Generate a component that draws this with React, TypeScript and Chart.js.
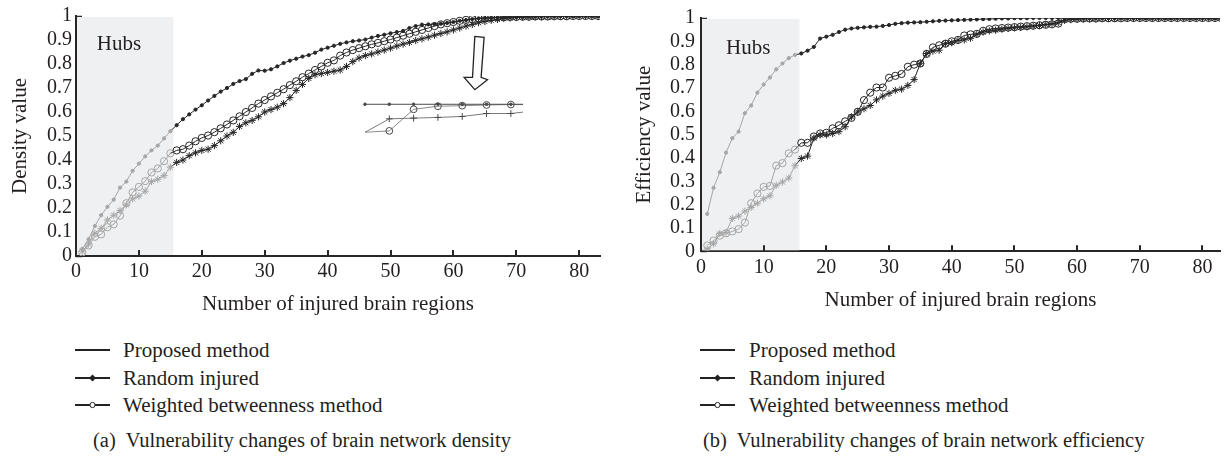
import React, { useEffect, useRef } from 'react';
import { Chart, registerables } from 'chart.js';

Chart.register(...registerables);

// ---------------- data ----------------
const injuredRegions = [
  1, 2, 3, 4, 5, 6, 7, 8, 9, 10, 11, 12, 13, 14, 15, 16, 17, 18, 19, 20,
  21, 22, 23, 24, 25, 26, 27, 28, 29, 30, 31, 32, 33, 34, 35, 36, 37, 38, 39, 40,
  41, 42, 43, 44, 45, 46, 47, 48, 49, 50, 51, 52, 53, 54, 55, 56, 57, 58, 59, 60,
  61, 62, 63, 64, 65, 66, 67, 68, 69, 70, 71, 72, 73, 74, 75, 76, 77, 78, 79, 80,
  81, 82, 83,
];
const xTickValues = [0, 10, 20, 30, 40, 50, 60, 70, 80];
const yTickValues = [0, 0.1, 0.2, 0.3, 0.4, 0.5, 0.6, 0.7, 0.8, 0.9, 1];

const densityProposed = [
  0.03, 0.07, 0.125, 0.17, 0.205, 0.235, 0.285, 0.31, 0.355, 0.385,
  0.415, 0.44, 0.46, 0.49, 0.52, 0.545, 0.57, 0.59, 0.61, 0.628,
  0.648, 0.667, 0.685, 0.7, 0.717, 0.729, 0.737, 0.759, 0.773, 0.772,
  0.778, 0.79, 0.804, 0.814, 0.822, 0.831, 0.837, 0.847, 0.86, 0.868,
  0.876, 0.884, 0.89, 0.895, 0.898, 0.902, 0.91, 0.917, 0.922, 0.928,
  0.933, 0.938, 0.95, 0.958, 0.964, 0.965, 0.966, 0.968, 0.971, 0.975,
  0.98, 0.983, 0.987, 0.99, 0.992, 0.993, 0.994, 0.995, 0.996, 0.997,
  0.997, 0.998, 0.998, 0.998, 0.999, 0.999, 0.999, 1, 1, 1,
  1, 1, 1,
];
const densityRandom = [
  0.02, 0.05, 0.095, 0.115, 0.15, 0.17, 0.19, 0.213, 0.238, 0.25,
  0.27, 0.31, 0.32, 0.335, 0.37, 0.39, 0.4, 0.418, 0.43, 0.44,
  0.445, 0.46, 0.48, 0.5, 0.515, 0.54, 0.555, 0.565, 0.58, 0.6,
  0.61, 0.62, 0.635, 0.66, 0.69, 0.715, 0.74, 0.755, 0.76, 0.765,
  0.77, 0.775, 0.79, 0.81, 0.825, 0.835, 0.842, 0.85, 0.858, 0.866,
  0.875, 0.883, 0.89, 0.898, 0.905, 0.912, 0.92, 0.927, 0.934, 0.942,
  0.95, 0.958, 0.965, 0.972, 0.977, 0.982, 0.986, 0.99, 0.992, 0.994,
  0.995, 0.996, 0.997, 0.997, 0.998, 0.998, 0.999, 0.999, 1, 1,
  1, 1, 1,
];
const densityWeighted = [
  0.015, 0.044, 0.08, 0.09, 0.12, 0.132, 0.168, 0.22, 0.265, 0.288,
  0.312, 0.348, 0.365, 0.395, 0.428, 0.44, 0.445, 0.46, 0.478, 0.492,
  0.502, 0.516, 0.532, 0.548, 0.565, 0.582, 0.6, 0.617, 0.635, 0.65,
  0.665, 0.68, 0.695, 0.712, 0.728, 0.745, 0.76, 0.775, 0.79, 0.805,
  0.815, 0.835, 0.848, 0.858, 0.866, 0.874, 0.882, 0.888, 0.895, 0.902,
  0.91, 0.918, 0.926, 0.934, 0.942, 0.95, 0.958, 0.965, 0.97, 0.975,
  0.98, 0.984, 0.987, 0.99, 0.992, 0.993, 0.994, 0.995, 0.996, 0.996,
  0.997, 0.997, 0.998, 0.998, 0.998, 0.999, 0.999, 0.999, 1, 1,
  1, 1, 1,
];

const efficiencyProposed = [
  0.16, 0.272, 0.339, 0.423, 0.485, 0.513, 0.592, 0.625, 0.68, 0.715,
  0.745, 0.78, 0.805, 0.828, 0.842, 0.848, 0.86, 0.876, 0.912, 0.92,
  0.928, 0.94, 0.95, 0.955, 0.958, 0.96, 0.962, 0.963, 0.966, 0.97,
  0.975, 0.978, 0.98, 0.981, 0.982, 0.984, 0.986, 0.988, 0.989, 0.99,
  0.991, 0.992, 0.993, 0.994, 0.995, 0.996, 0.997, 0.998, 0.998, 0.999,
  0.999, 0.999, 1, 1, 1, 1, 1, 1, 1, 1,
  1, 1, 1, 1, 1, 1, 1, 1, 1, 1,
  1, 1, 1, 1, 1, 1, 1, 1, 1, 1,
  1, 1, 1,
];
const efficiencyRandom = [
  0.01, 0.032, 0.077, 0.081, 0.141, 0.151, 0.172, 0.188, 0.206, 0.225,
  0.238, 0.283, 0.297, 0.314, 0.367, 0.398, 0.408, 0.485, 0.499, 0.499,
  0.505, 0.513, 0.534, 0.576, 0.597, 0.611, 0.625, 0.649, 0.665, 0.677,
  0.69, 0.695, 0.711, 0.736, 0.806, 0.848, 0.858, 0.862, 0.89, 0.894,
  0.904, 0.906, 0.913, 0.93, 0.94, 0.945, 0.948, 0.952, 0.955, 0.958,
  0.96, 0.962, 0.965, 0.968, 0.972, 0.976, 0.98, 0.99, 0.993, 0.995,
  0.996, 0.997, 0.997, 0.998, 0.998, 0.998, 0.999, 0.999, 0.999, 0.999,
  1, 1, 1, 1, 1, 1, 1, 1, 1, 1,
  1, 1, 1,
];
const efficiencyWeighted = [
  0.025, 0.046, 0.067, 0.077, 0.085, 0.095, 0.123, 0.206, 0.248, 0.276,
  0.28, 0.367, 0.378, 0.42, 0.436, 0.465, 0.465, 0.492, 0.505, 0.508,
  0.527, 0.54, 0.557, 0.572, 0.598, 0.648, 0.68, 0.702, 0.702, 0.744,
  0.752, 0.76, 0.791, 0.8, 0.805, 0.846, 0.874, 0.883, 0.89, 0.9,
  0.906, 0.925, 0.93, 0.932, 0.945, 0.952, 0.955, 0.957, 0.959, 0.961,
  0.963, 0.965, 0.967, 0.969, 0.971, 0.973, 0.976, 0.996, 0.997, 0.997,
  0.998, 0.998, 0.998, 0.999, 0.999, 0.999, 0.999, 1, 1, 1,
  1, 1, 1, 1, 1, 1, 1, 1, 1, 1,
  1, 1, 1,
];

// magnified inset (left panel)
const insetSteps = [0, 1, 2, 3, 4, 5, 6, 6.5];
const insetProposed = [1, 1, 1, 1, 1, 1, 1, 1];
const insetRandom = [0, 0.48, 0.505, 0.53, 0.565, 0.67, 0.67, 0.72];
const insetWeighted = [0, 0.05, 0.82, 0.93, 0.95, 0.975, 0.99, 0.99];

const seriesLabels = ['Proposed method', 'Random injured', 'Weighted betweenness method'];

// ---------------- style ----------------
const SERIF = '"Liberation Serif", "DejaVu Serif", serif';
const TEXT = '#231f20';
const DARK = '#262626';
const GRAY = '#a6a6a6';
const SHADE = '#eff0f2';
const HUB_LAST = 15;

Chart.defaults.font.family = SERIF;

type Panel = {
  W: number; H: number;
  areaLeft: number; areaRight: number; areaTop: number; areaBottom: number; titleBottom: number;
  xMax: number; yTitle: string; yTitlePad: number; tickPad: number;
  hubEnd: number; hubTop: number; hubLabelX: number; hubLabelY: number;
  proposed: number[]; random: number[]; weighted: number[];
  inset: boolean;
};

const pts = (xs: number[], ys: number[]) => xs.map((x, i) => ({ x, y: ys[i] }));

const byHub = (c: any) => (c.raw && c.raw.x <= HUB_LAST ? GRAY : DARK);

function mainDataset(label: string, ys: number[], style: string) {
  const base: any = {
    label,
    data: pts(injuredRegions, ys),
    xAxisID: 'x',
    yAxisID: 'y',
    borderWidth: 1,
    borderColor: DARK,
    tension: 0,
    segment: { borderColor: (c: any) => (c.p1.parsed.x <= HUB_LAST ? GRAY : DARK) },
    pointBorderColor: byHub,
    pointBorderWidth: 1,
    pointHoverRadius: 0,
  };
  if (style === 'dot') {
    base.pointStyle = 'circle';
    base.pointRadius = 1.6;
    base.pointBackgroundColor = byHub;
  } else if (style === 'star') {
    base.pointStyle = 'star';
    base.pointRadius = 3.6;
    base.pointBackgroundColor = byHub;
  } else {
    base.pointStyle = 'circle';
    base.pointRadius = 3.6;
    base.pointBackgroundColor = 'rgba(0,0,0,0)';
  }
  return base;
}

function insetDataset(label: string, ys: number[], style: string, lineColor: string) {
  const radius = style === 'dot' ? 1.3 : 3.4;
  return {
    label,
    data: pts(insetSteps, ys),
    xAxisID: 'x2',
    yAxisID: 'y2',
    borderWidth: 1,
    borderColor: lineColor,
    tension: 0,
    pointStyle: style === 'cross' ? 'cross' : 'circle',
    pointRadius: (c: any) => (c.raw && (c.raw.x % 1 !== 0 || (c.raw.x === 0 && style !== 'dot')) ? 0 : radius),
    pointBorderColor: '#4a4a4a',
    pointBorderWidth: 1,
    pointBackgroundColor: style === 'dot' ? '#4a4a4a' : 'rgba(0,0,0,0)',
    pointHoverRadius: 0,
  };
}

// inset placement as fractions of the plot area
const insetBox = { left: 0.5515, right: 0.8531, top: 0.3678, bottom: 0.4845 };
const insetXMin = 0;
const insetXMax = 6.5;
const insetYMin = 0;
const insetYMax = 1;

const annotPlugin: any = {
  id: 'annot',
  beforeDatasetsDraw(chart: any, _a: any, opts: any) {
    const { ctx } = chart;
    const x = chart.scales.x;
    const y = chart.scales.y;
    ctx.save();
    // inward y ticks
    ctx.strokeStyle = DARK;
    ctx.lineWidth = 1.5;
    for (const v of yTickValues) {
      const py = Math.round(y.getPixelForValue(v)) + 0.5;
      ctx.beginPath();
      ctx.moveTo(x.left, py);
      ctx.lineTo(x.left + 6, py);
      ctx.stroke();
    }
    // hubs shading
    const x0 = x.getPixelForValue(0) + 1;
    const x1 = x.getPixelForValue(opts.hubEnd);
    const y0 = y.getPixelForValue(0) - 1;
    const y1 = y.getPixelForValue(opts.hubTop);
    ctx.fillStyle = SHADE;
    ctx.fillRect(x0, y1, x1 - x0, y0 - y1);
    // inward x ticks
    ctx.strokeStyle = DARK;
    ctx.lineWidth = 2;
    for (const v of xTickValues) {
      if (v === 0) continue;
      const px = Math.round(x.getPixelForValue(v));
      ctx.beginPath();
      ctx.moveTo(px, y.bottom);
      ctx.lineTo(px, y.bottom - 6);
      ctx.stroke();
    }
    // label
    ctx.fillStyle = TEXT;
    ctx.font = `21px ${SERIF}`;
    ctx.textAlign = 'left';
    ctx.textBaseline = 'middle';
    ctx.fillText('Hubs', x.getPixelForValue(opts.hubLabelX), y.getPixelForValue(opts.hubLabelY));
    ctx.restore();
  },
  afterDatasetsDraw(chart: any, _a: any, opts: any) {
    if (!opts.arrow) return;
    const { ctx } = chart;
    const tx = chart.scales.x.getPixelForValue(opts.arrow.x);
    const ty = chart.scales.y.getPixelForValue(opts.arrow.y);
    const shape = [
      [0, 0], [-10.7, -12.3], [-2.3, -12.3], [0, -53.3], [9.3, -52.3], [6.3, -12.3], [12.7, -10],
    ];
    ctx.save();
    ctx.beginPath();
    shape.forEach(([dx, dy], i) => (i ? ctx.lineTo(tx + dx, ty + dy) : ctx.moveTo(tx + dx, ty + dy)));
    ctx.closePath();
    ctx.fillStyle = '#fbfbfb';
    ctx.fill();
    ctx.strokeStyle = '#222';
    ctx.lineWidth = 1.3;
    ctx.stroke();
    ctx.restore();
  },
};

function buildConfig(p: Panel): any {
  const datasets: any[] = [
    mainDataset(seriesLabels[0], p.proposed, 'dot'),
    mainDataset(seriesLabels[1], p.random, 'star'),
    mainDataset(seriesLabels[2], p.weighted, 'circle'),
  ];
  const scales: any = {
    x: {
      type: 'linear',
      min: 0,
      max: p.xMax,
      afterBuildTicks: (s: any) => { s.ticks = xTickValues.map((v) => ({ value: v })); },
      afterFit: (s: any) => { s.height = p.titleBottom - p.areaBottom; },
      grid: { display: false, drawTicks: false },
      border: { display: true, color: DARK, width: 2 },
      ticks: { color: TEXT, font: { size: 20, family: SERIF }, padding: 4, maxRotation: 0, autoSkip: false },
      title: {
        display: true, text: 'Number of injured brain regions', color: TEXT,
        font: { size: 21, family: SERIF }, padding: { top: 0, bottom: 0 },
      },
    },
    y: {
      type: 'linear',
      min: 0,
      max: 1,
      afterBuildTicks: (s: any) => { s.ticks = yTickValues.map((v) => ({ value: v })); },
      afterFit: (s: any) => { s.width = p.areaLeft; },
      grid: { display: false, drawTicks: false },
      border: { display: true, color: DARK, width: 2 },
      ticks: {
        color: TEXT, font: { size: 20, family: SERIF }, padding: p.tickPad, autoSkip: false,
        callback: (v: any) => String(v),
      },
      title: {
        display: true, text: p.yTitle, color: TEXT,
        font: { size: 21, family: SERIF }, padding: { top: p.yTitlePad, bottom: 0 },
      },
    },
  };
  if (p.inset) {
    const xr = (insetXMax - insetXMin) / (insetBox.right - insetBox.left);
    const x2min = insetXMin - insetBox.left * xr;
    const yr = (insetYMax - insetYMin) / (insetBox.bottom - insetBox.top);
    const y2max = insetYMax + insetBox.top * yr;
    scales.x2 = { type: 'linear', display: false, min: x2min, max: x2min + xr };
    scales.y2 = { type: 'linear', display: false, min: y2max - yr, max: y2max };
    datasets.push(insetDataset('inset proposed', insetProposed, 'dot', '#4d4d4d'));
    datasets.push(insetDataset('inset random', insetRandom, 'cross', '#7a7a7a'));
    datasets.push(insetDataset('inset weighted', insetWeighted, 'circle', '#8a8a8a'));
  }
  return {
    type: 'line',
    data: { datasets },
    plugins: [annotPlugin],
    options: {
      responsive: false,
      animation: false,
      devicePixelRatio: 1,
      parsing: true,
      events: [],
      layout: {
        padding: { left: 0, right: p.W - p.areaRight, top: p.areaTop, bottom: p.H - p.titleBottom },
      },
      plugins: {
        legend: { display: false },
        tooltip: { enabled: false },
        annot: {
          hubEnd: p.hubEnd, hubTop: p.hubTop, hubLabelX: p.hubLabelX, hubLabelY: p.hubLabelY,
          arrow: p.inset ? { x: 63.4, y: 0.693 } : null,
        },
      },
      scales,
    },
  };
}

const leftPanel: Panel = {
  W: 613, H: 320,
  areaLeft: 76, areaRight: 600, areaTop: 13.5, areaBottom: 256, titleBottom: 316.6,
  xMax: 83.3, yTitle: 'Density value', yTitlePad: 8, tickPad: 4,
  hubEnd: 15.5, hubTop: 0.996, hubLabelX: 3.3, hubLabelY: 0.883,
  proposed: densityProposed, random: densityRandom, weighted: densityWeighted,
  inset: true,
};
const rightPanel: Panel = {
  W: 613, H: 320,
  areaLeft: 88, areaRight: 607, areaTop: 12.7, areaBottom: 251.3, titleBottom: 312.6,
  xMax: 82.8, yTitle: 'Efficiency value', yTitlePad: 19, tickPad: 6,
  hubEnd: 15.7, hubTop: 0.996, hubLabelX: 4.0, hubLabelY: 0.87,
  proposed: efficiencyProposed, random: efficiencyRandom, weighted: efficiencyWeighted,
  inset: false,
};

function ChartPanel({ panel, left }: { panel: Panel; left: number }) {
  const ref = useRef<HTMLCanvasElement | null>(null);
  useEffect(() => {
    if (!ref.current) return;
    const chart = new Chart(ref.current, buildConfig(panel));
    return () => chart.destroy();
  }, [panel]);
  return (
    <canvas
      ref={ref}
      width={panel.W}
      height={panel.H}
      style={{ position: 'absolute', left, top: 0, width: panel.W, height: panel.H }}
    />
  );
}

function LegendMarker({ kind }: { kind: number }) {
  return (
    <svg width={36} height={12} style={{ display: 'block' }}>
      <line x1={0} y1={6} x2={35} y2={6} stroke="#222" strokeWidth={2} />
      {kind === 0 && <circle cx={17.5} cy={6} r={1} fill="#222" />}
      {kind === 1 && <polygon points="17.5,2.5 21,6 17.5,9.5 14,6" fill="#222" />}
      {kind === 2 && <circle cx={17.5} cy={6} r={2.6} fill="#fff" stroke="#222" strokeWidth={1} />}
    </svg>
  );
}

const legendRowCenters = [350, 377.5, 404.5];

function Legend({ lineLeft, textLeft }: { lineLeft: number; textLeft: number }) {
  return (
    <>
      {seriesLabels.map((label, i) => (
        <div
          key={label}
          style={{ position: 'absolute', left: lineLeft, top: legendRowCenters[i] - 14, height: 28, display: 'flex', alignItems: 'center' }}
        >
          <LegendMarker kind={i} />
          <span style={{ position: 'absolute', left: textLeft - lineLeft, top: 0, lineHeight: '28px', fontSize: 21, whiteSpace: 'nowrap' }}>
            {label}
          </span>
        </div>
      ))}
    </>
  );
}

function Caption({ left, text }: { left: number; text: string }) {
  return (
    <div style={{ position: 'absolute', left, top: 428, lineHeight: '24px', fontSize: 20.5, whiteSpace: 'pre' }}>{text}</div>
  );
}

export default function App() {
  return (
    <div
      style={{
        position: 'absolute', left: 0, top: 0, width: 1226, height: 460,
        background: '#fff', overflow: 'hidden', fontFamily: SERIF, color: TEXT,
      }}
    >
      <ChartPanel panel={leftPanel} left={0} />
      <ChartPanel panel={rightPanel} left={613} />
      <Legend lineLeft={75} textLeft={123} />
      <Legend lineLeft={700} textLeft={749} />
      <Caption left={93} text="(a)  Vulnerability changes of brain network density" />
      <Caption left={703} text="(b)  Vulnerability changes of brain network efficiency" />
    </div>
  );
}
